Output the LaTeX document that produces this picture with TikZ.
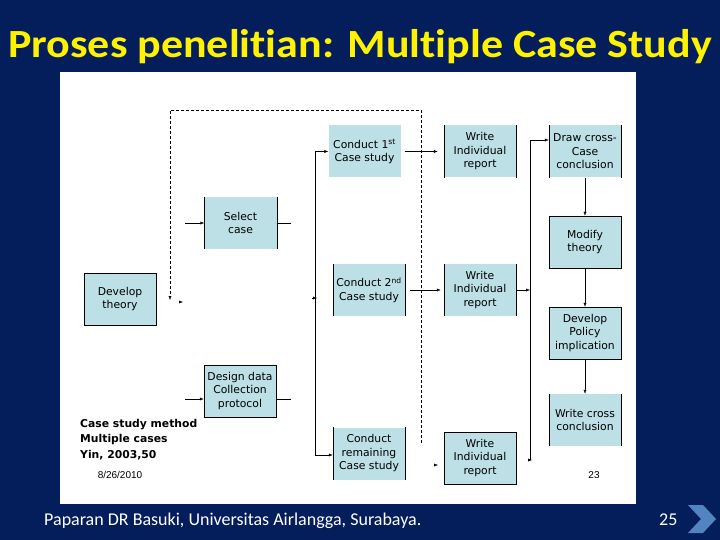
\documentclass[tikz,border=0pt]{standalone}
\usepackage{fontspec}
\setmainfont{Carlito}[RawFeature={-liga;-clig;-dlig;-calt}]
\newfontfamily\boxfont{DejaVu Sans}
\newfontfamily\datefont{Liberation Sans}
\usetikzlibrary{arrows.meta}

\definecolor{slidebg}{RGB}{4,30,92}
\definecolor{boxblue}{RGB}{188,224,229}
\definecolor{chevblue}{RGB}{82,132,194}

\tikzset{
  stage/.style={fill=boxblue, minimum width=72pt, minimum height=52pt, inner sep=0pt,
    align=center, font=\boxfont\fontsize{10.8}{13.5}\selectfont},
  framed/.style={stage, draw=black, thin},
  link/.style={thin, -{Latex[length=4pt,width=3pt]}},
  loopline/.style={densely dashed, thin},
}

\begin{document}
\begin{tikzpicture}[x=1pt,y=-1pt]
    % slide
    \fill[slidebg] (0,0) rectangle (720,540);
    \fill[white] (60,72) rectangle (636,504);
    \node[anchor=base, text=yellow, font=\bfseries\fontsize{40}{44}\selectfont] (title) at (360,58) {\scalebox{1.1}[1]{Proses penelit\kern0pt ian: Multiple Case Study}};
    \node[anchor=base west, inner sep=0pt, text=white, font=\fontsize{18}{20}\selectfont] (foot) at (44,525) {Paparan DR Basuki, Universitas Airlangga, Surabaya.};
    \node[anchor=base west, inner sep=0pt, text=white, font=\fontsize{18}{20}\selectfont] (page) at (659,525) {25};
    \fill[chevblue] (688,505) -- (703,505) -- (716,519) -- (703,533) -- (688,533) -- (701,519) -- cycle;

    % boxes
    \node[framed] (dev) at (120,299) {Develop\\theory};
    \node[stage] (sel) at (240.5,223) {Select\\case};
    \node[framed] (des) at (240,391) {Design data\\Collection\\protocol};
    \node[stage] (c1) at (364.5,151.5) {Conduct 1\textsuperscript{st}\\Case study};
    \node[stage] (c2) at (369,290) {Conduct 2\textsuperscript{nd}\\Case study};
    \node[stage] (cr) at (369,453.5) {Conduct\\remaining\\Case study};
    \node[stage] (w1) at (480,151.5) {Write\\Individual\\report};
    \node[stage] (w2) at (480,290) {Write\\Individual\\report};
    \node[framed] (w3) at (480,458) {Write\\Individual\\report};
    \node[stage] (dcc) at (585,151.5) {Draw cross-\\Case\\conclusion};
    \node[framed] (mod) at (585,242) {Modify\\theory};
    \node[framed] (pol) at (585,333) {Develop\\Policy\\implication};
    \node[stage] (wcc) at (585,420) {Write cross\\conclusion};
    \foreach \n in {sel,c2,cr,w1,w2,dcc,wcc}
    \draw[thin] (\n.north west) -- (\n.south west) (\n.north east) -- (\n.south east);

    % left side
    \coordinate (selin) at (185,223);
    \coordinate (selout) at (291,223);
    \coordinate (desin) at (185,399);
    \coordinate (desout) at (291,399);
    \draw[link] (selin) -- (sel);
    \draw[thin] (sel) -- (selout);
    \draw[link] (desin) -- (des.west |- desin);
    \draw[thin] (des.east |- desout) -- (desout);

    % spine to the cases
    \coordinate (sptop) at (315,151.5);
    \coordinate (spmid) at (312,298);
    \coordinate (spbot) at (315,455);
    \draw[thin] (sptop) -- (spbot);
    \draw[link] (sptop) -- (c1);
    \draw[link] (spbot) -- (cr.west |- spbot);
    \draw[link] (spmid) -- ++(5,0);
    \draw[link, shorten <=4pt, shorten >=6pt] (c1) -- (w1);
    \draw[link, shorten <=5pt, shorten >=3pt] (c2) -- (w2);
    \coordinate (w3in) at (434,465);
    \draw[link] (w3in) -- ++(4,0);

    % spine to the cross-case part
    \coordinate (rtop) at (530,140);
    \coordinate (rbot) at (530,460);
    \draw[thin] (rtop) -- (rbot);
    \draw[link] (rtop) -- (dcc.west |- rtop);
    \draw[link] (w2.east) -- (rtop |- w2.east);
    \draw[link] (rbot) -- ++(2,0);
    \draw[link] (dcc) -- (mod);
    \draw[link] (mod) -- (pol);
    \draw[link] (pol) -- (wcc);

    % feedback loop
    \coordinate (lpa) at (421,443);
    \coordinate (lpb) at (421,110);
    \coordinate (lpc) at (170,110);
    \coordinate (lpd) at (170,300);
    \draw[loopline, -{Latex[length=4pt,width=3pt]}] (lpa) -- (lpb) -- (lpc) -- (lpd);
    \coordinate (lpe) at (179,302);
    \draw[link] (lpe) -- ++(4,0);

    % notes
    \node[anchor=north west, align=left, inner sep=0pt,
      font=\boxfont\bfseries\fontsize{10.8}{15.5}\selectfont] (cite) at (80,419) {Case study method\\Multiple cases\\Yin, 2003,50};
    \node[font=\datefont\fontsize{10}{12}\selectfont] (date) at (120,475) {8/26/2010};
    \node[font=\datefont\fontsize{10}{12}\selectfont] (slideno) at (594,475) {23};
\end{tikzpicture}
\end{document}
